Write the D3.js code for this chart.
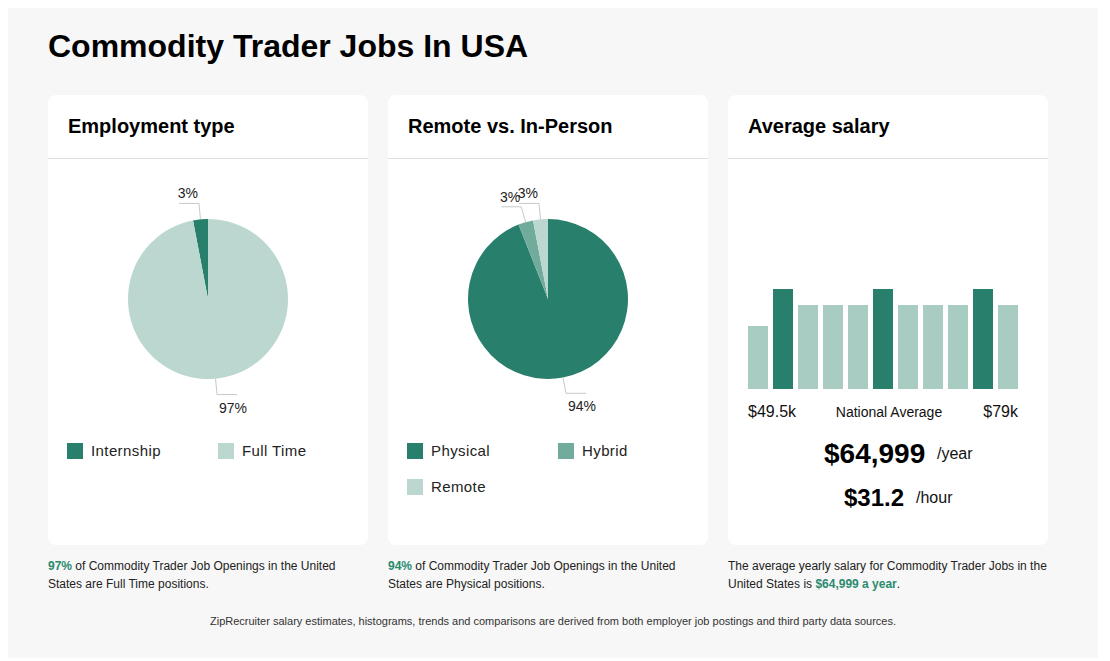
<!DOCTYPE html>
<html>
<head>
<meta charset="utf-8">
<script src="https://cdn.jsdelivr.net/npm/d3@7"></script>
<style>
  html, body { margin: 0; padding: 0; background: #fff; }
  svg { display: block; font-family: "Liberation Sans", Arial, sans-serif; }
</style>
</head>
<body>
<div id="chart"></div>
<script>
"use strict";

// data
var employmentLabels = ['Internship', 'Full Time'];
var employmentValues = [3, 97];
var remoteLabels = ['Physical', 'Hybrid', 'Remote'];
var remoteValues = [94, 3, 3];
var histBins = ['b1', 'b2', 'b3', 'b4', 'b5', 'b6', 'b7', 'b8', 'b9', 'b10', 'b11'];
var histValues = [63, 100, 84, 84, 84, 100, 84, 84, 84, 100, 84];
var histHighlight = [false, true, false, false, false, true, false, false, false, true, false];
var salaryLow = '$49.5k';
var salaryHigh = '$79k';
var salaryYear = '$64,999';
var salaryHour = '$31.2';

var dark = '#287f6c';
var mid = '#70ab9c';
var light = '#bcd7cf';
var barLight = '#a8ccc1';

var W = 1110, H = 661;
var svg = d3.select('#chart').append('svg').attr('width', W).attr('height', H);

svg.append('rect').attr('x', 8).attr('y', 8).attr('width', 1090).attr('height', 650).style('fill', '#f7f7f7');

svg.append('text').attr('x', 48).attr('y', 57).text('Commodity Trader Jobs In USA')
  .style('font-size', '32px').style('font-weight', 'bold').style('fill', '#000');

var cardX = [48, 388, 728];
var cardTitles = ['Employment type', 'Remote vs. In-Person', 'Average salary'];
var cards = cardX.map(function (x, i) {
  var g = svg.append('g').attr('transform', 'translate(' + x + ',95)');
  g.append('rect').attr('width', 320).attr('height', 450).attr('rx', 8).style('fill', '#fff');
  g.append('line').attr('x1', 0).attr('x2', 320).attr('y1', 63.5).attr('y2', 63.5).style('stroke', '#e0e0e0');
  g.append('text').attr('x', 20).attr('y', 38).text(cardTitles[i])
    .style('font-size', '20px').style('font-weight', 'bold').style('fill', '#000');
  return g;
});

var r = 80;
var Arc = d3.arc().innerRadius(0).outerRadius(r);

function drawPie(g, labels, values, colors) {
  var data = labels.map(function (l, i) { return { label: l, value: values[i], color: colors[i] }; });
  var pie = d3.pie().value(function (d) { return d.value; })
    .sort(function (a, b) { return b.value - a.value; });
  var arcs = pie(data);
  var pg = g.append('g').attr('transform', 'translate(160, 204)');
  pg.selectAll('path').data(arcs).enter().append('path')
    .attr('d', Arc).style('fill', function (d) { return d.data.color; });

  arcs.forEach(function (d) {
    var a = (d.startAngle + d.endAngle) / 2;
    var x0 = r * Math.sin(a), y0 = -r * Math.cos(a);
    var x1 = (r + 16) * Math.sin(a), y1 = -(r + 16) * Math.cos(a);
    var right = x1 > 0;
    var x2 = x1 + (right ? 20 : -20);
    pg.append('polyline')
      .attr('points', [[x0, y0], [x1, y1], [x2, y1]].join(' '))
      .style('fill', 'none').style('stroke', '#c8c8c8').style('stroke-width', 1);
    var top = y1 < 0;
    pg.append('text')
      .attr('x', right ? x1 + 2 : x1 - 1)
      .attr('y', top ? y1 - 5 : y1 + 18)
      .attr('text-anchor', right ? 'start' : 'end')
      .text(d.data.value + '%')
      .style('font-size', '14px').style('fill', '#222');
  });

  // legend
  data.forEach(function (d, i) {
    var lx = 19 + (i % 2) * 151;
    var ly = 348 + Math.floor(i / 2) * 36;
    g.append('rect').attr('x', lx).attr('y', ly).attr('width', 16).attr('height', 16).style('fill', d.color);
    g.append('text').attr('x', lx + 24).attr('y', ly + 13).text(d.label)
      .style('font-size', '15px').style('letter-spacing', '0.4px').style('fill', '#222');
  });
}

drawPie(cards[0], employmentLabels, employmentValues, [dark, light]);
drawPie(cards[1], remoteLabels, remoteValues, [dark, mid, light]);

// histogram
var hg = cards[2];
var xScale = d3.scaleBand().domain(histBins).range([20, 290]).paddingInner(0.2).paddingOuter(0);
var yScale = d3.scaleLinear().domain([0, 100]).range([294, 194]);
hg.selectAll('.bar').data(histValues).enter().append('rect')
  .attr('class', 'bar')
  .attr('x', function (d, i) { return xScale(histBins[i]); })
  .attr('width', xScale.bandwidth())
  .attr('y', function (d) { return yScale(d); })
  .attr('height', function (d) { return yScale(0) - yScale(d); })
  .style('fill', function (d, i) { return histHighlight[i] ? dark : barLight; });

hg.append('text').attr('x', 20).attr('y', 322).text(salaryLow).style('font-size', '16px').style('fill', '#111');
hg.append('text').attr('x', 290).attr('y', 322).attr('text-anchor', 'end').text(salaryHigh).style('font-size', '16px').style('fill', '#111');
hg.append('text').attr('x', 161).attr('y', 322).attr('text-anchor', 'middle').text('National Average').style('font-size', '14px').style('fill', '#111');

hg.append('text').attr('x', 96).attr('y', 368).text(salaryYear).style('font-size', '28px').style('font-weight', 'bold').style('fill', '#000');
hg.append('text').attr('x', 209).attr('y', 364).text('/year').style('font-size', '16px').style('fill', '#111');
hg.append('text').attr('x', 116).attr('y', 411).text(salaryHour).style('font-size', '24px').style('font-weight', 'bold').style('fill', '#000');
hg.append('text').attr('x', 188).attr('y', 408).text('/hour').style('font-size', '16px').style('fill', '#111');

// captions
var green = '#2b8a6f';
function caption(x, parts1, parts2) {
  [parts1, parts2].forEach(function (parts, li) {
    var t = svg.append('text').attr('x', x).attr('y', 570 + li * 18).style('font-size', '12px').style('fill', '#222');
    parts.forEach(function (p) {
      t.append('tspan').text(p[0]).style('font-weight', p[1] ? 'bold' : 'normal').style('fill', p[1] ? green : '#222');
    });
  });
}
caption(48, [['97%', true], [' of Commodity Trader Job Openings in the United', false]], [['States are Full Time positions.', false]]);
caption(388, [['94%', true], [' of Commodity Trader Job Openings in the United', false]], [['States are Physical positions.', false]]);
caption(728, [['The average yearly salary for Commodity Trader Jobs in the', false]], [['United States is ', false], ['$64,999 a year', true], ['.', false]]);

svg.append('text').attr('x', 553).attr('y', 625).attr('text-anchor', 'middle')
  .text('ZipRecruiter salary estimates, histograms, trends and comparisons are derived from both employer job postings and third party data sources.')
  .style('font-size', '11px').style('fill', '#333');
</script>
</body>
</html>
